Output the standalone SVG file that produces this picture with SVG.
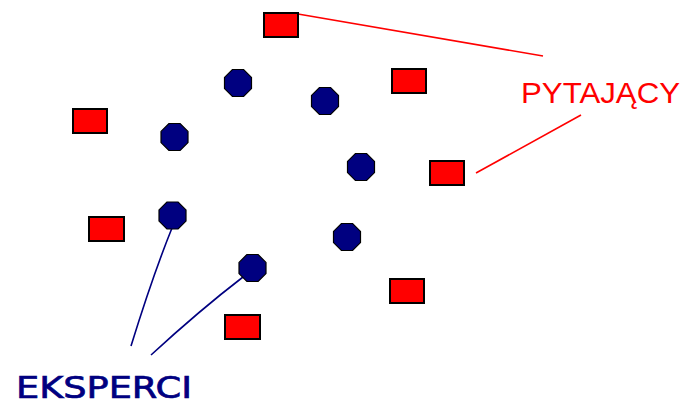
<svg xmlns="http://www.w3.org/2000/svg" width="685" height="405" viewBox="0 0 685 405">
<style>
.q{fill:#ff0000;stroke:#000;stroke-width:2}
.e{fill:#000080;stroke:#000;stroke-width:1.2}
.rl{stroke:#ff0000;stroke-width:1.6;fill:none}
.bl{stroke:#000080;stroke-width:1.6;fill:none}
</style>
<defs>
<polygon id="oct" points="-5.6,-13.5 5.6,-13.5 13.5,-5.6 13.5,5.6 5.6,13.5 -5.6,13.5 -13.5,5.6 -13.5,-5.6"/>
</defs>
<rect width="685" height="405" fill="#fff"/>
<g id="connectors">
<line class="rl" x1="298" y1="14" x2="543" y2="56"/>
<line class="rl" x1="476" y1="173" x2="581" y2="115"/>
<path class="bl" d="M172,228 Q153,275 131,346"/>
<path class="bl" d="M243,277 Q200,310 151,355"/>
</g>
<g id="q1"><rect class="q" x="264" y="13" width="34" height="24"/></g>
<g id="q2"><rect class="q" x="392" y="69" width="34" height="24"/></g>
<g id="q3"><rect class="q" x="73" y="109" width="34" height="24"/></g>
<g id="q4"><rect class="q" x="430" y="161" width="34" height="24"/></g>
<g id="q5"><rect class="q" x="89" y="217" width="35" height="24"/></g>
<g id="q6"><rect class="q" x="390" y="279" width="34" height="24"/></g>
<g id="q7"><rect class="q" x="225" y="315" width="35" height="24"/></g>
<g id="e1"><use href="#oct" class="e" x="238" y="83"/></g>
<g id="e2"><use href="#oct" class="e" x="325" y="101"/></g>
<g id="e3"><use href="#oct" class="e" x="174.5" y="137"/></g>
<g id="e4"><use href="#oct" class="e" x="361" y="167"/></g>
<g id="e5"><use href="#oct" class="e" x="172.5" y="215.5"/></g>
<g id="e6"><use href="#oct" class="e" x="252.5" y="268"/></g>
<g id="e7"><use href="#oct" class="e" x="347" y="237"/></g>
<g id="label-pytajacy"><text x="521" y="103" font-family="Liberation Sans, Arial, sans-serif" font-size="30" fill="#ff0000" textLength="159" lengthAdjust="spacingAndGlyphs">PYTAJĄCY</text></g>
<g id="label-eksperci"><text x="16" y="398" font-family="DejaVu Sans, Verdana, sans-serif" font-size="30" fill="#000080" stroke="#000080" stroke-width="0.7" textLength="176" lengthAdjust="spacingAndGlyphs">EKSPERCI</text></g>
</svg>
